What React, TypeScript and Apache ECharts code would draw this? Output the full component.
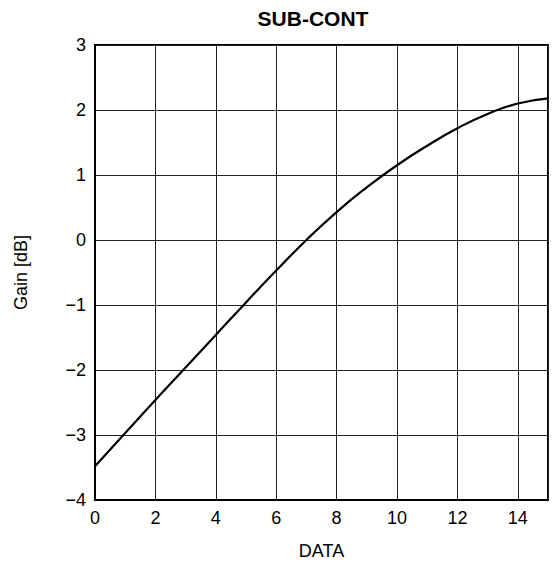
import React, { useEffect, useRef } from "react";
import * as echarts from "echarts";

const dataX = [0, 1, 2, 3, 4, 5, 6, 7, 8, 9, 10, 11, 12, 13, 14, 15];
const gainDb = [-3.48, -2.97, -2.46, -1.96, -1.46, -0.96, -0.47, 0.0, 0.43, 0.81, 1.15, 1.45, 1.72, 1.94, 2.1, 2.18];
const titleText = "SUB-CONT";
const xName = "DATA";
const yName = "Gain [dB]";

export default function App() {
  const ref = useRef<HTMLDivElement>(null);
  useEffect(() => {
    if (!ref.current) return;
    const chart = echarts.init(ref.current, null, { renderer: "svg" });
    const font = "Liberation Sans, Arial, Helvetica, sans-serif";
    chart.setOption({
      animation: false,
      backgroundColor: "#ffffff",
      title: {
        text: titleText,
        left: 308,
        top: 3,
        textAlign: "center",
        textStyle: { fontFamily: font, fontSize: 21, fontWeight: "bold", color: "#000" },
      },
      grid: {
        left: 95,
        right: 5,
        top: 45,
        bottom: 69,
        show: true,
        borderColor: "#000",
        borderWidth: 2,
        backgroundColor: "transparent",
      },
      xAxis: {
        type: "value",
        min: 0,
        max: 15,
        interval: 2,
        name: xName,
        nameLocation: "middle",
        nameGap: 42,
        nameTextStyle: { fontFamily: font, fontSize: 18, color: "#000" },
        axisLine: { show: true, onZero: false, lineStyle: { color: "#000", width: 2 } },
        axisTick: { show: false },
        axisLabel: {
          fontFamily: font,
          fontSize: 18,
          color: "#000",
          margin: 9,
          showMaxLabel: false,
        },
        splitLine: { show: true, lineStyle: { color: "#222", width: 1 } },
      },
      yAxis: {
        type: "value",
        min: -4,
        max: 3,
        interval: 1,
        name: yName,
        nameLocation: "middle",
        nameGap: 65,
        nameRotate: 90,
        nameTextStyle: { fontFamily: font, fontSize: 18, color: "#000" },
        axisLine: { show: true, onZero: false, lineStyle: { color: "#000", width: 2 } },
        axisTick: { show: false },
        axisLabel: {
          fontFamily: font,
          fontSize: 18,
          color: "#000",
          margin: 9,
          formatter: (v: number) => String(v).replace("-", "\u2212"),
        },
        splitLine: { show: true, lineStyle: { color: "#222", width: 1 } },
      },
      series: [
        {
          type: "line",
          data: dataX.map((x, i) => [x, gainDb[i]]),
          smooth: true,
          showSymbol: false,
          lineStyle: { color: "#000", width: 2.2 },
        },
      ],
    });
    return () => chart.dispose();
  }, []);
  return <div ref={ref} style={{ width: 553, height: 569, position: "absolute", left: 0, top: 0 }} />;
}
